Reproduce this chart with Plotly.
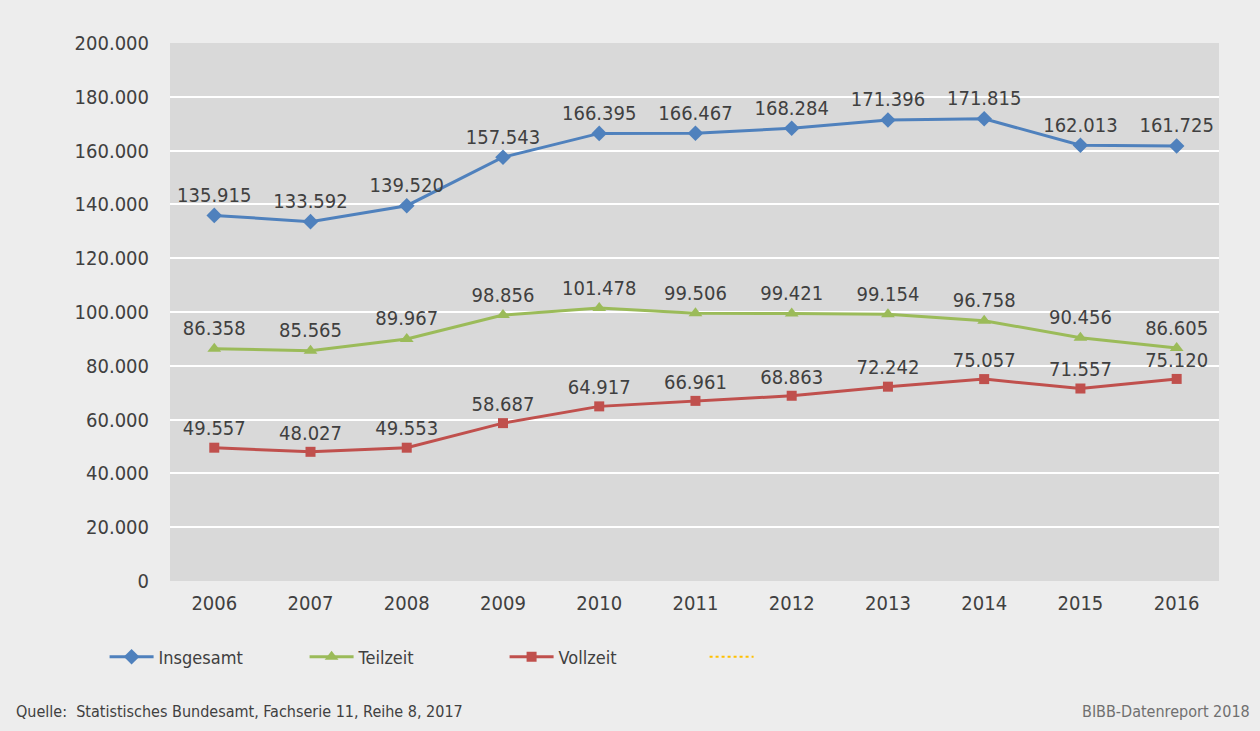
import plotly.graph_objects as go

years = ["2006", "2007", "2008", "2009", "2010", "2011", "2012", "2013", "2014", "2015", "2016"]
insgesamt = [135915, 133592, 139520, 157543, 166395, 166467, 168284, 171396, 171815, 162013, 161725]
teilzeit = [86358, 85565, 89967, 98856, 101478, 99506, 99421, 99154, 96758, 90456, 86605]
vollzeit = [49557, 48027, 49553, 58687, 64917, 66961, 68863, 72242, 75057, 71557, 75120]
y_ticks = [0, 20000, 40000, 60000, 80000, 100000, 120000, 140000, 160000, 180000, 200000]

FONT = "DejaVu Sans Condensed, Liberation Sans Narrow, Roboto Condensed, sans-serif"
TXT = "#404040"


def de(v):
    return f"{v:,}".replace(",", ".")


def series(name, vals, color, symbol, size):
    return go.Scatter(
        x=years, y=vals, name=name, mode="lines+markers+text",
        line=dict(color=color, width=3),
        marker=dict(symbol=symbol, size=size, color=color),
        text=[de(v) for v in vals], textposition="top center",
        textfont=dict(family=FONT, size=20, color=TXT),
        cliponaxis=False,
    )


fig = go.Figure()
fig.add_trace(series("Insgesamt", insgesamt, "#4F81BD", "diamond", 12))
fig.add_trace(series("Teilzeit", teilzeit, "#9BBB59", "triangle-up", 12))
fig.add_trace(series("Vollzeit", vollzeit, "#C0504D", "square", 10))
fig.add_trace(go.Scatter(x=[None], y=[None], name=" ", mode="lines",
                         line=dict(color="#FFC000", width=2, dash="dot")))

fig.update_layout(
    width=1260, height=731,
    paper_bgcolor="#EDEDED", plot_bgcolor="#D9D9D9",
    margin=dict(l=170, r=41, t=43, b=150),
    font=dict(family=FONT, color=TXT, size=20),
    showlegend=True,
    legend=dict(orientation="h", xref="container", yref="container",
                x=0.083, y=1 - 657 / 731, xanchor="left", yanchor="middle",
                bgcolor="rgba(0,0,0,0)", font=dict(size=18, color=TXT),
                itemwidth=44,
                entrywidth=141, entrywidthmode="pixels", traceorder="normal"),
    xaxis=dict(type="category", range=[-0.46, 10.44], showgrid=False, zeroline=False,
               ticks="outside", ticklen=4, tickcolor="rgba(0,0,0,0)",
               tickfont=dict(size=20, color=TXT)),
    yaxis=dict(range=[0, 200000], tickvals=y_ticks, ticktext=[de(v) for v in y_ticks],
               showgrid=True, gridcolor="#FFFFFF", gridwidth=2, zeroline=False,
               ticks="outside", ticklen=16, tickcolor="rgba(0,0,0,0)",
               tickfont=dict(size=20, color=TXT)),
    annotations=[
        dict(text="Quelle:  Statistisches Bundesamt, Fachserie 11, Reihe 8, 2017",
             xref="paper", yref="paper", x=-156 / 1049, y=-(711 - 581) / 538,
             xanchor="left", yanchor="middle", showarrow=False,
             font=dict(size=16, color=TXT)),
        dict(text="BIBB-Datenreport 2018",
             xref="paper", yref="paper", x=(1252 - 170) / 1049, y=-(711 - 581) / 538,
             xanchor="right", yanchor="middle", showarrow=False,
             font=dict(size=16, color="#707070")),
    ],
)

fig.write_html("out.html", config={"displayModeBar": False},
               post_script="document.body.style.margin='0';")
